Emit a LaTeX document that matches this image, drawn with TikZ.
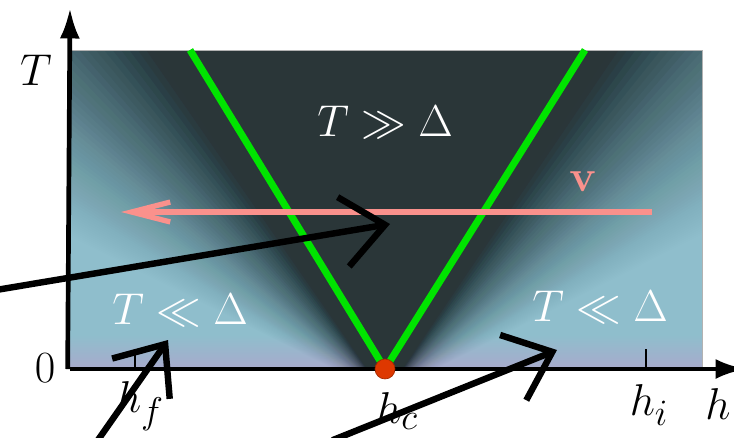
\documentclass[tikz,border=0pt]{standalone}
\usepackage{amsmath}
\usetikzlibrary{arrows.meta}

\definecolor{cdark}{RGB}{42,54,56}
\definecolor{clight}{RGB}{143,190,204}
\definecolor{clav}{RGB}{168,170,204}
\definecolor{cgreen}{RGB}{0,228,0}
\definecolor{cpink}{RGB}{250,145,140}
\definecolor{cdot}{RGB}{222,56,0}

\begin{document}
\begin{tikzpicture}[
    x=0.03cm, y=-0.03cm,
    lbl/.style={font=\Huge, scale=1.53, inner sep=0pt},
    regime/.style={lbl, text=white},
    axis/.style={line width=4pt, -{Latex[length=26pt, width=17pt]}},
    crossover/.style={cgreen, line width=6pt},
    sweep/.style={cpink, line width=4.5pt, -{Straight Barb[length=33pt, width=17pt]}},
    scribble/.style={black, line width=5.5pt, line cap=round,
                     -{Straight Barb[length=36pt, width=60pt]}},
    tickmark/.style={line width=2.5pt}
]
    \useasboundingbox (0,0) rectangle (734,437);

    % Background of the phase diagram
    \fill[clight] (70,50) rectangle (702,369);
    \shade[top color=clight, bottom color=clav] (70,335) rectangle (702,369);
    \begin{scope}
        \clip (70,50) rectangle (702,369);
        \foreach \j in {0,...,89} {
            \pgfmathsetmacro\ta{\j/90}
            \pgfmathsetmacro\tb{(\j+1)/90}
            \pgfmathsetmacro\fa{(1-\ta)*(1-\ta)*(1-\ta)*(1-\ta)}
            \pgfmathsetmacro\fb{(1-\tb)*(1-\tb)*(1-\tb)*(1-\tb)}
            \pgfmathsetmacro\op{max(min(1-(1-\fa)/max(1-\fb,0.0001),1),0)}
            \fill[cdark, fill opacity=\op] (385,395)
                -- ({385-(0.57+2.2*\ta)*346},49)
                -- ({385+(0.555+2.2*\ta)*346},49) -- cycle;
        }
    \end{scope}
    \draw[gray!60, line width=0.6pt] (70,50) -- (702,50) -- (702,369);

    % Points
    \coordinate (O) at (70,369);
    \coordinate (Ttip) at (70,8);
    \coordinate (htip) at (746,369);
    \coordinate (gL) at (190,50);
    \coordinate (gR) at (585,50);
    \coordinate (vstart) at (652,212);
    \coordinate (vend) at (121,212);

    % Crossover lines
    \node[circle, inner sep=0pt, minimum size=17pt] (crit) at (385,369) {};
    \draw[crossover] (crit.center) -- (gL);
    \draw[crossover] (crit.center) -- (gR);

    % Sweep
    \draw[sweep] (vstart) -- (vend);
    \node[lbl, text=cpink] (vlab) at (583,182) {$\mathbf{v}$};

    % Axes
    \draw[axis] ([xshift=-2pt]O) -- (Ttip);
    \draw[axis] (O) -- (htip);
    \coordinate (hfpt) at (135,369);
    \coordinate (hipt) at (646,369);
    \draw[tickmark] (hfpt) -- ++(0,-17);
    \draw[tickmark] (hipt) -- ++(0,-20);
    \node[circle, fill=cdot, draw=cdot!75!black, line width=0.6pt,
          minimum size=17pt, inner sep=0pt] at (crit) {};

    % Labels
    \node[lbl] (Tlab) at (36,70) {$T$};
    \node[lbl] (zero) at (45,368) {$0$};
    \node[lbl] (hf) at (140,406) {$h_f$};
    \node[lbl] (hc) at (397,411) {$h_c$};
    \node[lbl] (hi) at (649,405) {$h_i$};
    \node[lbl] (hlab) at (718,404) {$h$};
    \node[regime] (hot) at (385,122) {$T \gg \Delta$};
    \node[regime] (coldL) at (180,310) {$T \ll \Delta$};
    \node[regime] (coldR) at (600,307) {$T \ll \Delta$};

    % Sketched arrows
    \coordinate (s1a) at (-10,291);
    \coordinate (s1b) at (390,224);
    \coordinate (s2a) at (98,440);
    \coordinate (s2b) at (168,340);
    \coordinate (s3a) at (333,440);
    \coordinate (s3b) at (557,350);
    \draw[scribble] (s1a) -- (s1b);
    \draw[scribble] (s2a) -- (s2b);
    \draw[scribble] (s3a) -- (s3b);
\end{tikzpicture}
\end{document}
